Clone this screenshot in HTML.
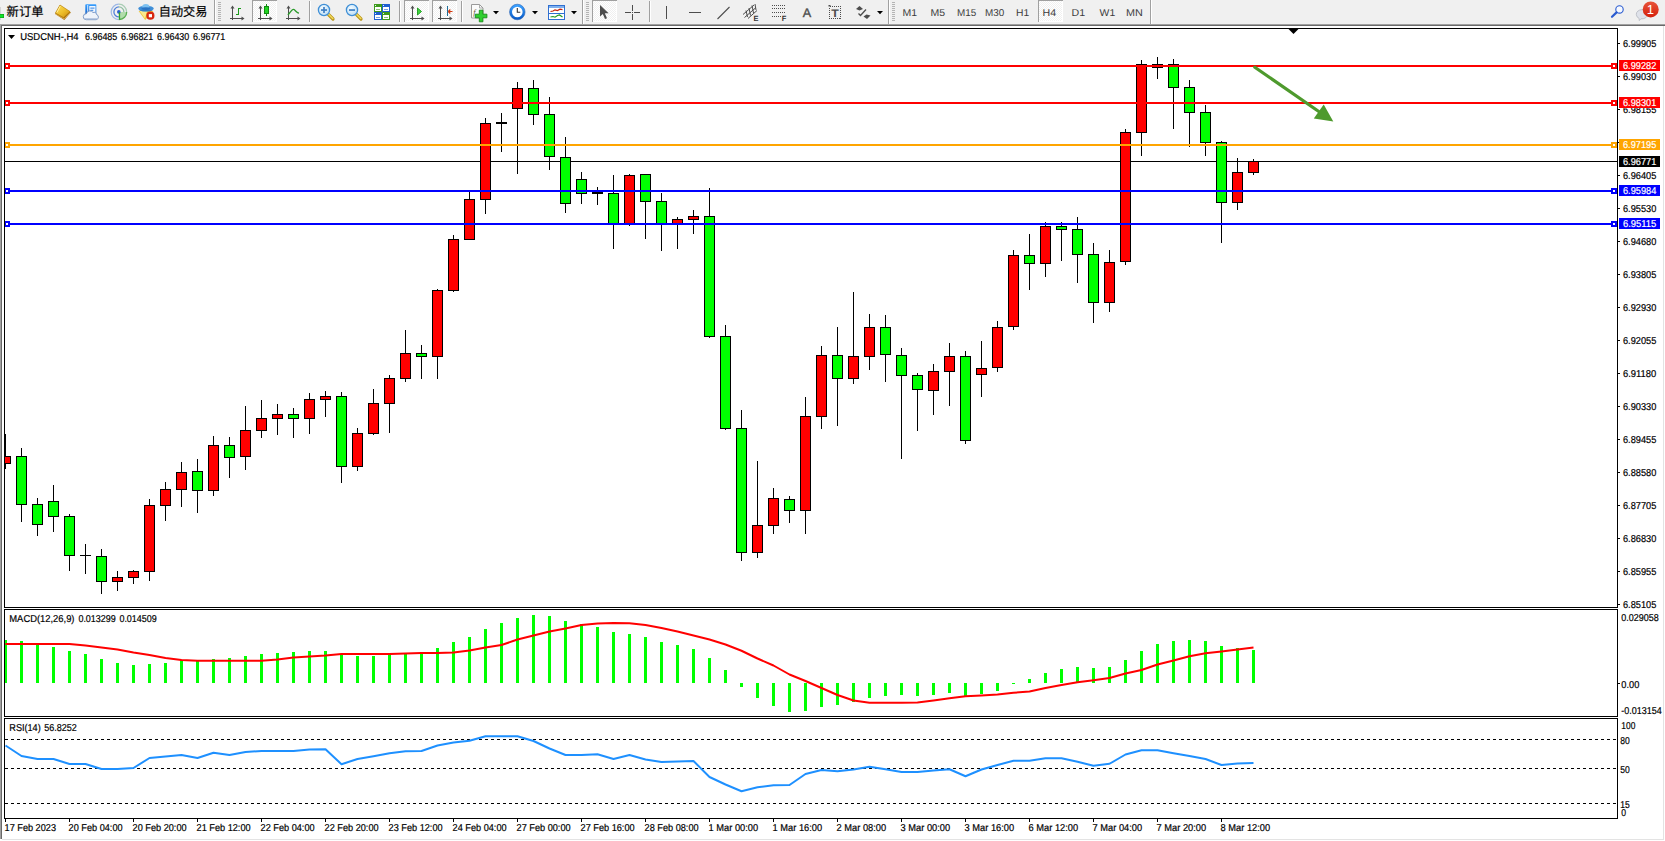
<!DOCTYPE html>
<html lang="zh-CN">
<head>
<meta charset="utf-8">
<title>USDCNH-,H4</title>
<style>
html,body{margin:0;padding:0;background:#fff;overflow:hidden}
body{width:1665px;height:841px}
svg{display:block;font-family:"Liberation Sans", "Noto Sans CJK SC", sans-serif}
text{white-space:pre;text-rendering:geometricPrecision}
</style>
</head>
<body>
<svg width="1665" height="841" viewBox="0 0 1665 841">
<rect x="0" y="0" width="1665" height="841" fill="#fff"/>
<rect x="0" y="0" width="1665" height="24" fill="#f0f0f0"/>
<rect x="0" y="24" width="1665" height="1" fill="#a0a0a0"/>
<rect x="0" y="25" width="1665" height="1" fill="#696969"/>
<rect x="0" y="25" width="1" height="814" fill="#a0a0a0"/>
<rect x="1" y="25" width="1" height="814" fill="#696969"/>
<rect x="1663" y="26" width="1" height="813" fill="#e3e3e3"/>
<rect x="2" y="839" width="1662" height="1" fill="#e3e3e3"/>
<clipPath id="cm"><rect x="5" y="29" width="1612" height="578"/></clipPath>
<clipPath id="cd"><rect x="5" y="610" width="1612" height="106"/></clipPath>
<clipPath id="cr"><rect x="5" y="719" width="1612" height="99"/></clipPath>
<g clip-path="url(#cm)" shape-rendering="crispEdges">
<rect x="5" y="161" width="1612" height="1" fill="#000"/>
<rect x="5" y="434" width="1" height="35" fill="#000"/>
<rect x="0" y="456" width="11" height="8" fill="#000"/>
<rect x="1" y="457" width="9" height="6" fill="#f00"/>
<rect x="21" y="448" width="1" height="74" fill="#000"/>
<rect x="16" y="456" width="11" height="49" fill="#000"/>
<rect x="17" y="457" width="9" height="47" fill="#0f0"/>
<rect x="37" y="498" width="1" height="38" fill="#000"/>
<rect x="32" y="504" width="11" height="21" fill="#000"/>
<rect x="33" y="505" width="9" height="19" fill="#0f0"/>
<rect x="53" y="485" width="1" height="47" fill="#000"/>
<rect x="48" y="501" width="11" height="16" fill="#000"/>
<rect x="49" y="502" width="9" height="14" fill="#0f0"/>
<rect x="69" y="514" width="1" height="57" fill="#000"/>
<rect x="64" y="516" width="11" height="40" fill="#000"/>
<rect x="65" y="517" width="9" height="38" fill="#0f0"/>
<rect x="85" y="544" width="1" height="30" fill="#000"/>
<rect x="80" y="555" width="11" height="1" fill="#000"/>
<rect x="101" y="549" width="1" height="45" fill="#000"/>
<rect x="96" y="556" width="11" height="26" fill="#000"/>
<rect x="97" y="557" width="9" height="24" fill="#0f0"/>
<rect x="117" y="571" width="1" height="20" fill="#000"/>
<rect x="112" y="577" width="11" height="5" fill="#000"/>
<rect x="113" y="578" width="9" height="3" fill="#f00"/>
<rect x="133" y="570" width="1" height="14" fill="#000"/>
<rect x="128" y="571" width="11" height="7" fill="#000"/>
<rect x="129" y="572" width="9" height="5" fill="#f00"/>
<rect x="149" y="499" width="1" height="82" fill="#000"/>
<rect x="144" y="505" width="11" height="67" fill="#000"/>
<rect x="145" y="506" width="9" height="65" fill="#f00"/>
<rect x="165" y="482" width="1" height="39" fill="#000"/>
<rect x="160" y="489" width="11" height="17" fill="#000"/>
<rect x="161" y="490" width="9" height="15" fill="#f00"/>
<rect x="181" y="462" width="1" height="45" fill="#000"/>
<rect x="176" y="472" width="11" height="18" fill="#000"/>
<rect x="177" y="473" width="9" height="16" fill="#f00"/>
<rect x="197" y="459" width="1" height="54" fill="#000"/>
<rect x="192" y="471" width="11" height="20" fill="#000"/>
<rect x="193" y="472" width="9" height="18" fill="#0f0"/>
<rect x="213" y="436" width="1" height="60" fill="#000"/>
<rect x="208" y="445" width="11" height="46" fill="#000"/>
<rect x="209" y="446" width="9" height="44" fill="#f00"/>
<rect x="229" y="437" width="1" height="41" fill="#000"/>
<rect x="224" y="445" width="11" height="13" fill="#000"/>
<rect x="225" y="446" width="9" height="11" fill="#0f0"/>
<rect x="245" y="406" width="1" height="64" fill="#000"/>
<rect x="240" y="430" width="11" height="27" fill="#000"/>
<rect x="241" y="431" width="9" height="25" fill="#f00"/>
<rect x="261" y="400" width="1" height="38" fill="#000"/>
<rect x="256" y="418" width="11" height="13" fill="#000"/>
<rect x="257" y="419" width="9" height="11" fill="#f00"/>
<rect x="277" y="404" width="1" height="31" fill="#000"/>
<rect x="272" y="414" width="11" height="5" fill="#000"/>
<rect x="273" y="415" width="9" height="3" fill="#f00"/>
<rect x="293" y="408" width="1" height="30" fill="#000"/>
<rect x="288" y="414" width="11" height="5" fill="#000"/>
<rect x="289" y="415" width="9" height="3" fill="#0f0"/>
<rect x="309" y="393" width="1" height="41" fill="#000"/>
<rect x="304" y="399" width="11" height="20" fill="#000"/>
<rect x="305" y="400" width="9" height="18" fill="#f00"/>
<rect x="325" y="391" width="1" height="26" fill="#000"/>
<rect x="320" y="396" width="11" height="4" fill="#000"/>
<rect x="321" y="397" width="9" height="2" fill="#f00"/>
<rect x="341" y="392" width="1" height="91" fill="#000"/>
<rect x="336" y="396" width="11" height="71" fill="#000"/>
<rect x="337" y="397" width="9" height="69" fill="#0f0"/>
<rect x="357" y="428" width="1" height="43" fill="#000"/>
<rect x="352" y="433" width="11" height="34" fill="#000"/>
<rect x="353" y="434" width="9" height="32" fill="#f00"/>
<rect x="373" y="389" width="1" height="46" fill="#000"/>
<rect x="368" y="403" width="11" height="31" fill="#000"/>
<rect x="369" y="404" width="9" height="29" fill="#f00"/>
<rect x="389" y="375" width="1" height="58" fill="#000"/>
<rect x="384" y="378" width="11" height="26" fill="#000"/>
<rect x="385" y="379" width="9" height="24" fill="#f00"/>
<rect x="405" y="330" width="1" height="52" fill="#000"/>
<rect x="400" y="353" width="11" height="26" fill="#000"/>
<rect x="401" y="354" width="9" height="24" fill="#f00"/>
<rect x="421" y="345" width="1" height="34" fill="#000"/>
<rect x="416" y="353" width="11" height="4" fill="#000"/>
<rect x="417" y="354" width="9" height="2" fill="#0f0"/>
<rect x="437" y="289" width="1" height="90" fill="#000"/>
<rect x="432" y="290" width="11" height="67" fill="#000"/>
<rect x="433" y="291" width="9" height="65" fill="#f00"/>
<rect x="453" y="235" width="1" height="57" fill="#000"/>
<rect x="448" y="239" width="11" height="52" fill="#000"/>
<rect x="449" y="240" width="9" height="50" fill="#f00"/>
<rect x="469" y="192" width="1" height="48" fill="#000"/>
<rect x="464" y="199" width="11" height="41" fill="#000"/>
<rect x="465" y="200" width="9" height="39" fill="#f00"/>
<rect x="485" y="118" width="1" height="96" fill="#000"/>
<rect x="480" y="123" width="11" height="77" fill="#000"/>
<rect x="481" y="124" width="9" height="75" fill="#f00"/>
<rect x="501" y="113" width="1" height="39" fill="#000"/>
<rect x="496" y="122" width="11" height="2" fill="#000"/>
<rect x="517" y="82" width="1" height="92" fill="#000"/>
<rect x="512" y="88" width="11" height="21" fill="#000"/>
<rect x="513" y="89" width="9" height="19" fill="#f00"/>
<rect x="533" y="80" width="1" height="45" fill="#000"/>
<rect x="528" y="88" width="11" height="27" fill="#000"/>
<rect x="529" y="89" width="9" height="25" fill="#0f0"/>
<rect x="549" y="97" width="1" height="73" fill="#000"/>
<rect x="544" y="114" width="11" height="43" fill="#000"/>
<rect x="545" y="115" width="9" height="41" fill="#0f0"/>
<rect x="565" y="137" width="1" height="76" fill="#000"/>
<rect x="560" y="157" width="11" height="47" fill="#000"/>
<rect x="561" y="158" width="9" height="45" fill="#0f0"/>
<rect x="581" y="172" width="1" height="32" fill="#000"/>
<rect x="576" y="179" width="11" height="15" fill="#000"/>
<rect x="577" y="180" width="9" height="13" fill="#0f0"/>
<rect x="597" y="187" width="1" height="18" fill="#000"/>
<rect x="592" y="192" width="11" height="2" fill="#000"/>
<rect x="613" y="175" width="1" height="74" fill="#000"/>
<rect x="608" y="193" width="11" height="32" fill="#000"/>
<rect x="609" y="194" width="9" height="30" fill="#0f0"/>
<rect x="629" y="174" width="1" height="52" fill="#000"/>
<rect x="624" y="175" width="11" height="50" fill="#000"/>
<rect x="625" y="176" width="9" height="48" fill="#f00"/>
<rect x="645" y="174" width="1" height="65" fill="#000"/>
<rect x="640" y="174" width="11" height="28" fill="#000"/>
<rect x="641" y="175" width="9" height="26" fill="#0f0"/>
<rect x="661" y="193" width="1" height="58" fill="#000"/>
<rect x="656" y="201" width="11" height="24" fill="#000"/>
<rect x="657" y="202" width="9" height="22" fill="#0f0"/>
<rect x="677" y="217" width="1" height="32" fill="#000"/>
<rect x="672" y="219" width="11" height="6" fill="#000"/>
<rect x="673" y="220" width="9" height="4" fill="#f00"/>
<rect x="693" y="210" width="1" height="24" fill="#000"/>
<rect x="688" y="216" width="11" height="4" fill="#000"/>
<rect x="689" y="217" width="9" height="2" fill="#f00"/>
<rect x="709" y="188" width="1" height="150" fill="#000"/>
<rect x="704" y="216" width="11" height="121" fill="#000"/>
<rect x="705" y="217" width="9" height="119" fill="#0f0"/>
<rect x="725" y="325" width="1" height="105" fill="#000"/>
<rect x="720" y="336" width="11" height="93" fill="#000"/>
<rect x="721" y="337" width="9" height="91" fill="#0f0"/>
<rect x="741" y="410" width="1" height="151" fill="#000"/>
<rect x="736" y="428" width="11" height="125" fill="#000"/>
<rect x="737" y="429" width="9" height="123" fill="#0f0"/>
<rect x="757" y="461" width="1" height="97" fill="#000"/>
<rect x="752" y="525" width="11" height="28" fill="#000"/>
<rect x="753" y="526" width="9" height="26" fill="#f00"/>
<rect x="773" y="488" width="1" height="46" fill="#000"/>
<rect x="768" y="498" width="11" height="28" fill="#000"/>
<rect x="769" y="499" width="9" height="26" fill="#f00"/>
<rect x="789" y="496" width="1" height="27" fill="#000"/>
<rect x="784" y="499" width="11" height="12" fill="#000"/>
<rect x="785" y="500" width="9" height="10" fill="#0f0"/>
<rect x="805" y="397" width="1" height="137" fill="#000"/>
<rect x="800" y="416" width="11" height="95" fill="#000"/>
<rect x="801" y="417" width="9" height="93" fill="#f00"/>
<rect x="821" y="346" width="1" height="83" fill="#000"/>
<rect x="816" y="355" width="11" height="62" fill="#000"/>
<rect x="817" y="356" width="9" height="60" fill="#f00"/>
<rect x="837" y="327" width="1" height="99" fill="#000"/>
<rect x="832" y="355" width="11" height="24" fill="#000"/>
<rect x="833" y="356" width="9" height="22" fill="#0f0"/>
<rect x="853" y="292" width="1" height="92" fill="#000"/>
<rect x="848" y="356" width="11" height="23" fill="#000"/>
<rect x="849" y="357" width="9" height="21" fill="#f00"/>
<rect x="869" y="314" width="1" height="56" fill="#000"/>
<rect x="864" y="327" width="11" height="30" fill="#000"/>
<rect x="865" y="328" width="9" height="28" fill="#f00"/>
<rect x="885" y="315" width="1" height="67" fill="#000"/>
<rect x="880" y="327" width="11" height="28" fill="#000"/>
<rect x="881" y="328" width="9" height="26" fill="#0f0"/>
<rect x="901" y="348" width="1" height="111" fill="#000"/>
<rect x="896" y="355" width="11" height="21" fill="#000"/>
<rect x="897" y="356" width="9" height="19" fill="#0f0"/>
<rect x="917" y="373" width="1" height="58" fill="#000"/>
<rect x="912" y="375" width="11" height="15" fill="#000"/>
<rect x="913" y="376" width="9" height="13" fill="#0f0"/>
<rect x="933" y="364" width="1" height="51" fill="#000"/>
<rect x="928" y="371" width="11" height="20" fill="#000"/>
<rect x="929" y="372" width="9" height="18" fill="#f00"/>
<rect x="949" y="343" width="1" height="63" fill="#000"/>
<rect x="944" y="356" width="11" height="16" fill="#000"/>
<rect x="945" y="357" width="9" height="14" fill="#f00"/>
<rect x="965" y="351" width="1" height="93" fill="#000"/>
<rect x="960" y="356" width="11" height="85" fill="#000"/>
<rect x="961" y="357" width="9" height="83" fill="#0f0"/>
<rect x="981" y="341" width="1" height="56" fill="#000"/>
<rect x="976" y="368" width="11" height="7" fill="#000"/>
<rect x="977" y="369" width="9" height="5" fill="#f00"/>
<rect x="997" y="321" width="1" height="51" fill="#000"/>
<rect x="992" y="327" width="11" height="41" fill="#000"/>
<rect x="993" y="328" width="9" height="39" fill="#f00"/>
<rect x="1013" y="250" width="1" height="80" fill="#000"/>
<rect x="1008" y="255" width="11" height="72" fill="#000"/>
<rect x="1009" y="256" width="9" height="70" fill="#f00"/>
<rect x="1029" y="234" width="1" height="56" fill="#000"/>
<rect x="1024" y="255" width="11" height="9" fill="#000"/>
<rect x="1025" y="256" width="9" height="7" fill="#0f0"/>
<rect x="1045" y="222" width="1" height="55" fill="#000"/>
<rect x="1040" y="226" width="11" height="38" fill="#000"/>
<rect x="1041" y="227" width="9" height="36" fill="#f00"/>
<rect x="1061" y="222" width="1" height="39" fill="#000"/>
<rect x="1056" y="226" width="11" height="4" fill="#000"/>
<rect x="1057" y="227" width="9" height="2" fill="#0f0"/>
<rect x="1077" y="217" width="1" height="66" fill="#000"/>
<rect x="1072" y="229" width="11" height="26" fill="#000"/>
<rect x="1073" y="230" width="9" height="24" fill="#0f0"/>
<rect x="1093" y="243" width="1" height="80" fill="#000"/>
<rect x="1088" y="254" width="11" height="49" fill="#000"/>
<rect x="1089" y="255" width="9" height="47" fill="#0f0"/>
<rect x="1109" y="250" width="1" height="62" fill="#000"/>
<rect x="1104" y="262" width="11" height="41" fill="#000"/>
<rect x="1105" y="263" width="9" height="39" fill="#f00"/>
<rect x="1125" y="129" width="1" height="136" fill="#000"/>
<rect x="1120" y="132" width="11" height="130" fill="#000"/>
<rect x="1121" y="133" width="9" height="128" fill="#f00"/>
<rect x="1141" y="60" width="1" height="96" fill="#000"/>
<rect x="1136" y="64" width="11" height="69" fill="#000"/>
<rect x="1137" y="65" width="9" height="67" fill="#f00"/>
<rect x="1157" y="57" width="1" height="22" fill="#000"/>
<rect x="1152" y="64" width="11" height="4" fill="#000"/>
<rect x="1173" y="59" width="1" height="70" fill="#000"/>
<rect x="1168" y="64" width="11" height="24" fill="#000"/>
<rect x="1169" y="65" width="9" height="22" fill="#0f0"/>
<rect x="1189" y="80" width="1" height="67" fill="#000"/>
<rect x="1184" y="87" width="11" height="26" fill="#000"/>
<rect x="1185" y="88" width="9" height="24" fill="#0f0"/>
<rect x="1205" y="105" width="1" height="51" fill="#000"/>
<rect x="1200" y="112" width="11" height="31" fill="#000"/>
<rect x="1201" y="113" width="9" height="29" fill="#0f0"/>
<rect x="1221" y="141" width="1" height="102" fill="#000"/>
<rect x="1216" y="142" width="11" height="61" fill="#000"/>
<rect x="1217" y="143" width="9" height="59" fill="#0f0"/>
<rect x="1237" y="158" width="1" height="52" fill="#000"/>
<rect x="1232" y="172" width="11" height="31" fill="#000"/>
<rect x="1233" y="173" width="9" height="29" fill="#f00"/>
<rect x="1253" y="159" width="1" height="16" fill="#000"/>
<rect x="1248" y="161" width="11" height="12" fill="#000"/>
<rect x="1249" y="162" width="9" height="10" fill="#f00"/>
</g>
<g shape-rendering="crispEdges">
<rect x="5" y="65" width="1612" height="2" fill="#f00"/>
<rect x="4" y="63" width="6" height="6" fill="#f00"/>
<rect x="6" y="65" width="2" height="2" fill="#fff"/>
<rect x="1611" y="63" width="6" height="6" fill="#f00"/>
<rect x="1613" y="65" width="2" height="2" fill="#fff"/>
<rect x="5" y="102" width="1612" height="2" fill="#f00"/>
<rect x="4" y="100" width="6" height="6" fill="#f00"/>
<rect x="6" y="102" width="2" height="2" fill="#fff"/>
<rect x="1611" y="100" width="6" height="6" fill="#f00"/>
<rect x="1613" y="102" width="2" height="2" fill="#fff"/>
<rect x="5" y="144" width="1612" height="2" fill="#ffa500"/>
<rect x="4" y="142" width="6" height="6" fill="#ffa500"/>
<rect x="6" y="144" width="2" height="2" fill="#fff"/>
<rect x="1611" y="142" width="6" height="6" fill="#ffa500"/>
<rect x="1613" y="144" width="2" height="2" fill="#fff"/>
<rect x="5" y="190" width="1612" height="2" fill="#00f"/>
<rect x="4" y="188" width="6" height="6" fill="#00f"/>
<rect x="6" y="190" width="2" height="2" fill="#fff"/>
<rect x="1611" y="188" width="6" height="6" fill="#00f"/>
<rect x="1613" y="190" width="2" height="2" fill="#fff"/>
<rect x="5" y="223" width="1612" height="2" fill="#00f"/>
<rect x="4" y="221" width="6" height="6" fill="#00f"/>
<rect x="6" y="223" width="2" height="2" fill="#fff"/>
<rect x="1611" y="221" width="6" height="6" fill="#00f"/>
<rect x="1613" y="223" width="2" height="2" fill="#fff"/>
</g>
<g>
<line x1="1254.8" y1="67.2" x2="1319.5" y2="112" stroke="#4e9a2d" stroke-width="3.2" stroke-linecap="round"/>
<polygon points="1333.3,121.4 1323.7,104.6 1313.8,118.4" fill="#4e9a2d"/>
</g>
<polygon points="1288.5,29 1298.5,29 1293.5,34" fill="#000"/>
<g clip-path="url(#cd)">
<g shape-rendering="crispEdges">
<rect x="4" y="640" width="3" height="43" fill="#0f0"/>
<rect x="20" y="641" width="3" height="42" fill="#0f0"/>
<rect x="36" y="644" width="3" height="39" fill="#0f0"/>
<rect x="52" y="647" width="3" height="36" fill="#0f0"/>
<rect x="68" y="651" width="3" height="32" fill="#0f0"/>
<rect x="84" y="654" width="3" height="29" fill="#0f0"/>
<rect x="100" y="659" width="3" height="24" fill="#0f0"/>
<rect x="116" y="663" width="3" height="20" fill="#0f0"/>
<rect x="132" y="665" width="3" height="18" fill="#0f0"/>
<rect x="148" y="664" width="3" height="19" fill="#0f0"/>
<rect x="164" y="663" width="3" height="20" fill="#0f0"/>
<rect x="180" y="660" width="3" height="23" fill="#0f0"/>
<rect x="196" y="660" width="3" height="23" fill="#0f0"/>
<rect x="212" y="659" width="3" height="24" fill="#0f0"/>
<rect x="228" y="658" width="3" height="25" fill="#0f0"/>
<rect x="244" y="656" width="3" height="27" fill="#0f0"/>
<rect x="260" y="654" width="3" height="29" fill="#0f0"/>
<rect x="276" y="653" width="3" height="30" fill="#0f0"/>
<rect x="292" y="652" width="3" height="31" fill="#0f0"/>
<rect x="308" y="651" width="3" height="32" fill="#0f0"/>
<rect x="324" y="651" width="3" height="32" fill="#0f0"/>
<rect x="340" y="655" width="3" height="28" fill="#0f0"/>
<rect x="356" y="656" width="3" height="27" fill="#0f0"/>
<rect x="372" y="656" width="3" height="27" fill="#0f0"/>
<rect x="388" y="655" width="3" height="28" fill="#0f0"/>
<rect x="404" y="654" width="3" height="29" fill="#0f0"/>
<rect x="420" y="653" width="3" height="30" fill="#0f0"/>
<rect x="436" y="648" width="3" height="35" fill="#0f0"/>
<rect x="452" y="642" width="3" height="41" fill="#0f0"/>
<rect x="468" y="637" width="3" height="46" fill="#0f0"/>
<rect x="484" y="629" width="3" height="54" fill="#0f0"/>
<rect x="500" y="623" width="3" height="60" fill="#0f0"/>
<rect x="516" y="618" width="3" height="65" fill="#0f0"/>
<rect x="532" y="615" width="3" height="68" fill="#0f0"/>
<rect x="548" y="616" width="3" height="67" fill="#0f0"/>
<rect x="564" y="621" width="3" height="62" fill="#0f0"/>
<rect x="580" y="624" width="3" height="59" fill="#0f0"/>
<rect x="596" y="627" width="3" height="56" fill="#0f0"/>
<rect x="612" y="632" width="3" height="51" fill="#0f0"/>
<rect x="628" y="634" width="3" height="49" fill="#0f0"/>
<rect x="644" y="637" width="3" height="46" fill="#0f0"/>
<rect x="660" y="642" width="3" height="41" fill="#0f0"/>
<rect x="676" y="645" width="3" height="38" fill="#0f0"/>
<rect x="692" y="649" width="3" height="34" fill="#0f0"/>
<rect x="708" y="658" width="3" height="25" fill="#0f0"/>
<rect x="724" y="670" width="3" height="13" fill="#0f0"/>
<rect x="740" y="683" width="3" height="4" fill="#0f0"/>
<rect x="756" y="683" width="3" height="15" fill="#0f0"/>
<rect x="772" y="683" width="3" height="23" fill="#0f0"/>
<rect x="788" y="683" width="3" height="29" fill="#0f0"/>
<rect x="804" y="683" width="3" height="28" fill="#0f0"/>
<rect x="820" y="683" width="3" height="24" fill="#0f0"/>
<rect x="836" y="683" width="3" height="22" fill="#0f0"/>
<rect x="852" y="683" width="3" height="19" fill="#0f0"/>
<rect x="868" y="683" width="3" height="15" fill="#0f0"/>
<rect x="884" y="683" width="3" height="13" fill="#0f0"/>
<rect x="900" y="683" width="3" height="12" fill="#0f0"/>
<rect x="916" y="683" width="3" height="13" fill="#0f0"/>
<rect x="932" y="683" width="3" height="12" fill="#0f0"/>
<rect x="948" y="683" width="3" height="10" fill="#0f0"/>
<rect x="964" y="683" width="3" height="13" fill="#0f0"/>
<rect x="980" y="683" width="3" height="11" fill="#0f0"/>
<rect x="996" y="683" width="3" height="8" fill="#0f0"/>
<rect x="1012" y="683" width="3" height="1" fill="#0f0"/>
<rect x="1028" y="679" width="3" height="4" fill="#0f0"/>
<rect x="1044" y="673" width="3" height="10" fill="#0f0"/>
<rect x="1060" y="669" width="3" height="14" fill="#0f0"/>
<rect x="1076" y="667" width="3" height="16" fill="#0f0"/>
<rect x="1092" y="668" width="3" height="15" fill="#0f0"/>
<rect x="1108" y="667" width="3" height="16" fill="#0f0"/>
<rect x="1124" y="660" width="3" height="23" fill="#0f0"/>
<rect x="1140" y="651" width="3" height="32" fill="#0f0"/>
<rect x="1156" y="644" width="3" height="39" fill="#0f0"/>
<rect x="1172" y="641" width="3" height="42" fill="#0f0"/>
<rect x="1188" y="640" width="3" height="43" fill="#0f0"/>
<rect x="1204" y="641" width="3" height="42" fill="#0f0"/>
<rect x="1220" y="646" width="3" height="37" fill="#0f0"/>
<rect x="1236" y="648" width="3" height="35" fill="#0f0"/>
<rect x="1252" y="650" width="3" height="33" fill="#0f0"/>
</g>
<polyline points="5.5,644 21.5,644 37.5,644 53.5,644 69.5,644 85.5,645.5 101.5,647.5 117.5,649.5 133.5,652.5 149.5,655 165.5,658 181.5,660 197.5,660.75 213.5,660.75 229.5,660.75 245.5,660.75 261.5,660.75 277.5,659.5 293.5,657.5 309.5,656.5 325.5,655.5 341.5,654 357.5,654 373.5,654 389.5,654 405.5,653.5 421.5,653 437.5,653 453.5,652.5 469.5,650.5 485.5,647.5 501.5,645 517.5,639.5 533.5,635.5 549.5,631.5 565.5,628.5 581.5,625 597.5,623.5 613.5,623 629.5,623.25 645.5,625 661.5,628 677.5,631.5 693.5,635.5 709.5,639.5 725.5,644.5 741.5,650.75 757.5,658.5 773.5,665.5 789.5,674.5 805.5,681 821.5,688 837.5,695 853.5,700.5 869.5,702.75 885.5,702.75 901.5,702.75 917.5,702.5 933.5,700.5 949.5,698.25 965.5,696.25 981.5,695.5 997.5,694.5 1013.5,692.75 1029.5,691.5 1045.5,688 1061.5,685 1077.5,682.25 1093.5,680.25 1109.5,678 1125.5,673.5 1141.5,670 1157.5,664.5 1173.5,660.5 1189.5,656.25 1205.5,653.25 1221.5,651.5 1237.5,649.5 1253.5,647.5" fill="none" stroke="#f00" stroke-width="2" stroke-linejoin="round"/>
</g>
<g shape-rendering="crispEdges">
<line x1="5" y1="739.5" x2="1617" y2="739.5" stroke="#000" stroke-width="1" stroke-dasharray="3,3"/>
<line x1="5" y1="768.5" x2="1617" y2="768.5" stroke="#000" stroke-width="1" stroke-dasharray="3,3"/>
<line x1="5" y1="803.5" x2="1617" y2="803.5" stroke="#000" stroke-width="1" stroke-dasharray="3,3"/>
</g>
<g clip-path="url(#cr)">
<polyline points="5.5,745.5 21.5,756 37.5,759 53.5,759 69.5,764 85.5,764 101.5,769 117.5,769 133.5,768 149.5,758 165.5,756.5 181.5,755 197.5,758 213.5,752.75 229.5,755 245.5,752 261.5,751 277.5,751 293.5,751 309.5,749.5 325.5,749.25 341.5,764.25 357.5,759 373.5,756.25 389.5,753.25 405.5,751.25 421.5,751 437.5,745.5 453.5,742.5 469.5,740.75 485.5,736.25 501.5,736.25 517.5,736.25 533.5,741 549.5,748.5 565.5,755 581.5,755 597.5,754.25 613.5,759 629.5,755 645.5,759.5 661.5,762 677.5,761.5 693.5,761 709.5,777 725.5,784.5 741.5,791.25 757.5,787.25 773.5,785.25 789.5,785 805.5,774 821.5,770 837.5,771.25 853.5,769.5 869.5,766.75 885.5,769.25 901.5,772 917.5,772 933.5,770.5 949.5,769.25 965.5,776.25 981.5,769.5 997.5,765 1013.5,760.75 1029.5,760.75 1045.5,758.25 1061.5,758.25 1077.5,761.75 1093.5,765.75 1109.5,763.75 1125.5,754.5 1141.5,750.25 1157.5,750.25 1173.5,753.25 1189.5,756 1205.5,759 1221.5,765 1237.5,763.5 1253.5,763" fill="none" stroke="#1e90ff" stroke-width="2" stroke-linejoin="round"/>
</g>
<g shape-rendering="crispEdges" fill="#000">
<rect x="4" y="28" width="1614" height="1" fill="#000"/>
<rect x="4" y="607" width="1614" height="1" fill="#000"/>
<rect x="4" y="28" width="1" height="580" fill="#000"/>
<rect x="1617" y="28" width="1" height="580" fill="#000"/>
<rect x="4" y="609" width="1614" height="1" fill="#000"/>
<rect x="4" y="716" width="1614" height="1" fill="#000"/>
<rect x="4" y="609" width="1" height="108" fill="#000"/>
<rect x="1617" y="609" width="1" height="108" fill="#000"/>
<rect x="4" y="718" width="1614" height="1" fill="#000"/>
<rect x="4" y="818" width="1614" height="1" fill="#000"/>
<rect x="4" y="718" width="1" height="101" fill="#000"/>
<rect x="1617" y="718" width="1" height="101" fill="#000"/>
</g>
<g shape-rendering="crispEdges">
<rect x="1618" y="43" width="2" height="1" fill="#000"/>
<rect x="1618" y="76" width="2" height="1" fill="#000"/>
<rect x="1618" y="109" width="2" height="1" fill="#000"/>
<rect x="1618" y="142" width="2" height="1" fill="#000"/>
<rect x="1618" y="175" width="2" height="1" fill="#000"/>
<rect x="1618" y="208" width="2" height="1" fill="#000"/>
<rect x="1618" y="241" width="2" height="1" fill="#000"/>
<rect x="1618" y="274" width="2" height="1" fill="#000"/>
<rect x="1618" y="307" width="2" height="1" fill="#000"/>
<rect x="1618" y="340" width="2" height="1" fill="#000"/>
<rect x="1618" y="373" width="2" height="1" fill="#000"/>
<rect x="1618" y="406" width="2" height="1" fill="#000"/>
<rect x="1618" y="439" width="2" height="1" fill="#000"/>
<rect x="1618" y="472" width="2" height="1" fill="#000"/>
<rect x="1618" y="505" width="2" height="1" fill="#000"/>
<rect x="1618" y="538" width="2" height="1" fill="#000"/>
<rect x="1618" y="571" width="2" height="1" fill="#000"/>
<rect x="1618" y="604" width="2" height="1" fill="#000"/>
<rect x="1618" y="683" width="2" height="1" fill="#000"/>
</g>
<g>
<text x="1623" y="47" font-size="10" fill="#000" stroke="#000" stroke-width="0.2" textLength="33.3" lengthAdjust="spacingAndGlyphs">6.99905</text>
<text x="1623" y="80" font-size="10" fill="#000" stroke="#000" stroke-width="0.2" textLength="33.3" lengthAdjust="spacingAndGlyphs">6.99030</text>
<text x="1623" y="113" font-size="10" fill="#000" stroke="#000" stroke-width="0.2" textLength="33.3" lengthAdjust="spacingAndGlyphs">6.98155</text>
<text x="1623" y="179" font-size="10" fill="#000" stroke="#000" stroke-width="0.2" textLength="33.3" lengthAdjust="spacingAndGlyphs">6.96405</text>
<text x="1623" y="212" font-size="10" fill="#000" stroke="#000" stroke-width="0.2" textLength="33.3" lengthAdjust="spacingAndGlyphs">6.95530</text>
<text x="1623" y="245" font-size="10" fill="#000" stroke="#000" stroke-width="0.2" textLength="33.3" lengthAdjust="spacingAndGlyphs">6.94680</text>
<text x="1623" y="278" font-size="10" fill="#000" stroke="#000" stroke-width="0.2" textLength="33.3" lengthAdjust="spacingAndGlyphs">6.93805</text>
<text x="1623" y="311" font-size="10" fill="#000" stroke="#000" stroke-width="0.2" textLength="33.3" lengthAdjust="spacingAndGlyphs">6.92930</text>
<text x="1623" y="344" font-size="10" fill="#000" stroke="#000" stroke-width="0.2" textLength="33.3" lengthAdjust="spacingAndGlyphs">6.92055</text>
<text x="1623" y="377" font-size="10" fill="#000" stroke="#000" stroke-width="0.2" textLength="33.3" lengthAdjust="spacingAndGlyphs">6.91180</text>
<text x="1623" y="410" font-size="10" fill="#000" stroke="#000" stroke-width="0.2" textLength="33.3" lengthAdjust="spacingAndGlyphs">6.90330</text>
<text x="1623" y="443" font-size="10" fill="#000" stroke="#000" stroke-width="0.2" textLength="33.3" lengthAdjust="spacingAndGlyphs">6.89455</text>
<text x="1623" y="476" font-size="10" fill="#000" stroke="#000" stroke-width="0.2" textLength="33.3" lengthAdjust="spacingAndGlyphs">6.88580</text>
<text x="1623" y="509" font-size="10" fill="#000" stroke="#000" stroke-width="0.2" textLength="33.3" lengthAdjust="spacingAndGlyphs">6.87705</text>
<text x="1623" y="542" font-size="10" fill="#000" stroke="#000" stroke-width="0.2" textLength="33.3" lengthAdjust="spacingAndGlyphs">6.86830</text>
<text x="1623" y="575" font-size="10" fill="#000" stroke="#000" stroke-width="0.2" textLength="33.3" lengthAdjust="spacingAndGlyphs">6.85955</text>
<text x="1623" y="608" font-size="10" fill="#000" stroke="#000" stroke-width="0.2" textLength="33.3" lengthAdjust="spacingAndGlyphs">6.85105</text>
</g>
<g shape-rendering="crispEdges">
<rect x="1619" y="60" width="41" height="11" fill="#f00"/>
<rect x="1619" y="97" width="41" height="11" fill="#f00"/>
<rect x="1619" y="139" width="41" height="11" fill="#ffa500"/>
<rect x="1619" y="185" width="41" height="11" fill="#00f"/>
<rect x="1619" y="218" width="41" height="11" fill="#00f"/>
<rect x="1619" y="156" width="41" height="11" fill="#000"/>
</g>
<text x="1623" y="69" font-size="10" fill="#fff" stroke="#fff" stroke-width="0.2" textLength="33.3" lengthAdjust="spacingAndGlyphs">6.99282</text>
<text x="1623" y="106" font-size="10" fill="#fff" stroke="#fff" stroke-width="0.2" textLength="33.3" lengthAdjust="spacingAndGlyphs">6.98301</text>
<text x="1623" y="148" font-size="10" fill="#fff" stroke="#fff" stroke-width="0.2" textLength="33.3" lengthAdjust="spacingAndGlyphs">6.97195</text>
<text x="1623" y="194" font-size="10" fill="#fff" stroke="#fff" stroke-width="0.2" textLength="33.3" lengthAdjust="spacingAndGlyphs">6.95984</text>
<text x="1623" y="227" font-size="10" fill="#fff" stroke="#fff" stroke-width="0.2" textLength="33.3" lengthAdjust="spacingAndGlyphs">6.95115</text>
<text x="1623" y="165" font-size="10" fill="#fff" stroke="#fff" stroke-width="0.2" textLength="33.3" lengthAdjust="spacingAndGlyphs">6.96771</text>
<text x="1621.3" y="621" font-size="10" fill="#000" stroke="#000" stroke-width="0.2" textLength="37.5" lengthAdjust="spacingAndGlyphs">0.029058</text>
<text x="1621.3" y="687.5" font-size="10" fill="#000" stroke="#000" stroke-width="0.2" textLength="18" lengthAdjust="spacingAndGlyphs">0.00</text>
<text x="1621.3" y="713.6" font-size="10" fill="#000" stroke="#000" stroke-width="0.2" textLength="40.5" lengthAdjust="spacingAndGlyphs">-0.013154</text>
<text x="1621.3" y="729" font-size="10" fill="#000" stroke="#000" stroke-width="0.2" textLength="14" lengthAdjust="spacingAndGlyphs">100</text>
<text x="1620.3" y="743.5" font-size="10" fill="#000" stroke="#000" stroke-width="0.2" textLength="9.5" lengthAdjust="spacingAndGlyphs">80</text>
<text x="1620.3" y="772.5" font-size="10" fill="#000" stroke="#000" stroke-width="0.2" textLength="9.5" lengthAdjust="spacingAndGlyphs">50</text>
<text x="1620.3" y="807.5" font-size="10" fill="#000" stroke="#000" stroke-width="0.2" textLength="9.5" lengthAdjust="spacingAndGlyphs">15</text>
<text x="1621.3" y="815.5" font-size="10" fill="#000" stroke="#000" stroke-width="0.2" textLength="4.8" lengthAdjust="spacingAndGlyphs">0</text>
<polygon points="8,35 15,35 11.5,39" fill="#000"/>
<text y="40" font-size="10" fill="#000" stroke="#000" stroke-width="0.2"><tspan x="20.2" textLength="58.3" lengthAdjust="spacingAndGlyphs">USDCNH-,H4</tspan><tspan x="85" textLength="32.3" lengthAdjust="spacingAndGlyphs">6.96485</tspan> <tspan x="121" textLength="32.3" lengthAdjust="spacingAndGlyphs">6.96821</tspan> <tspan x="157" textLength="32.3" lengthAdjust="spacingAndGlyphs">6.96430</tspan> <tspan x="193" textLength="32.3" lengthAdjust="spacingAndGlyphs">6.96771</tspan></text>
<text y="622" font-size="10" fill="#000" stroke="#000" stroke-width="0.2"><tspan x="9.3" textLength="65.2" lengthAdjust="spacingAndGlyphs">MACD(12,26,9)</tspan> <tspan x="78.4" textLength="37.4" lengthAdjust="spacingAndGlyphs">0.013299</tspan> <tspan x="119.4" textLength="37.4" lengthAdjust="spacingAndGlyphs">0.014509</tspan></text>
<text y="731" font-size="10" fill="#000" stroke="#000" stroke-width="0.2"><tspan x="9.3" textLength="31.4" lengthAdjust="spacingAndGlyphs">RSI(14)</tspan> <tspan x="44.3" textLength="32.6" lengthAdjust="spacingAndGlyphs">56.8252</tspan></text>
<g shape-rendering="crispEdges">
<rect x="5" y="819" width="1" height="3" fill="#000"/>
<rect x="69" y="819" width="1" height="3" fill="#000"/>
<rect x="133" y="819" width="1" height="3" fill="#000"/>
<rect x="197" y="819" width="1" height="3" fill="#000"/>
<rect x="261" y="819" width="1" height="3" fill="#000"/>
<rect x="325" y="819" width="1" height="3" fill="#000"/>
<rect x="389" y="819" width="1" height="3" fill="#000"/>
<rect x="453" y="819" width="1" height="3" fill="#000"/>
<rect x="517" y="819" width="1" height="3" fill="#000"/>
<rect x="581" y="819" width="1" height="3" fill="#000"/>
<rect x="645" y="819" width="1" height="3" fill="#000"/>
<rect x="709" y="819" width="1" height="3" fill="#000"/>
<rect x="773" y="819" width="1" height="3" fill="#000"/>
<rect x="837" y="819" width="1" height="3" fill="#000"/>
<rect x="901" y="819" width="1" height="3" fill="#000"/>
<rect x="965" y="819" width="1" height="3" fill="#000"/>
<rect x="1029" y="819" width="1" height="3" fill="#000"/>
<rect x="1093" y="819" width="1" height="3" fill="#000"/>
<rect x="1157" y="819" width="1" height="3" fill="#000"/>
<rect x="1221" y="819" width="1" height="3" fill="#000"/>
</g>
<text x="4.6" y="831.4" font-size="10" fill="#000" stroke="#000" stroke-width="0.2" textLength="51.4" lengthAdjust="spacingAndGlyphs">17 Feb 2023</text>
<text x="68.6" y="831.4" font-size="10" fill="#000" stroke="#000" stroke-width="0.2" textLength="54" lengthAdjust="spacingAndGlyphs">20 Feb 04:00</text>
<text x="132.6" y="831.4" font-size="10" fill="#000" stroke="#000" stroke-width="0.2" textLength="54" lengthAdjust="spacingAndGlyphs">20 Feb 20:00</text>
<text x="196.6" y="831.4" font-size="10" fill="#000" stroke="#000" stroke-width="0.2" textLength="54" lengthAdjust="spacingAndGlyphs">21 Feb 12:00</text>
<text x="260.6" y="831.4" font-size="10" fill="#000" stroke="#000" stroke-width="0.2" textLength="54" lengthAdjust="spacingAndGlyphs">22 Feb 04:00</text>
<text x="324.6" y="831.4" font-size="10" fill="#000" stroke="#000" stroke-width="0.2" textLength="54" lengthAdjust="spacingAndGlyphs">22 Feb 20:00</text>
<text x="388.6" y="831.4" font-size="10" fill="#000" stroke="#000" stroke-width="0.2" textLength="54" lengthAdjust="spacingAndGlyphs">23 Feb 12:00</text>
<text x="452.6" y="831.4" font-size="10" fill="#000" stroke="#000" stroke-width="0.2" textLength="54" lengthAdjust="spacingAndGlyphs">24 Feb 04:00</text>
<text x="516.6" y="831.4" font-size="10" fill="#000" stroke="#000" stroke-width="0.2" textLength="54" lengthAdjust="spacingAndGlyphs">27 Feb 00:00</text>
<text x="580.6" y="831.4" font-size="10" fill="#000" stroke="#000" stroke-width="0.2" textLength="54" lengthAdjust="spacingAndGlyphs">27 Feb 16:00</text>
<text x="644.6" y="831.4" font-size="10" fill="#000" stroke="#000" stroke-width="0.2" textLength="54" lengthAdjust="spacingAndGlyphs">28 Feb 08:00</text>
<text x="708.6" y="831.4" font-size="10" fill="#000" stroke="#000" stroke-width="0.2" textLength="49.5" lengthAdjust="spacingAndGlyphs">1 Mar 00:00</text>
<text x="772.6" y="831.4" font-size="10" fill="#000" stroke="#000" stroke-width="0.2" textLength="49.5" lengthAdjust="spacingAndGlyphs">1 Mar 16:00</text>
<text x="836.6" y="831.4" font-size="10" fill="#000" stroke="#000" stroke-width="0.2" textLength="49.5" lengthAdjust="spacingAndGlyphs">2 Mar 08:00</text>
<text x="900.6" y="831.4" font-size="10" fill="#000" stroke="#000" stroke-width="0.2" textLength="49.5" lengthAdjust="spacingAndGlyphs">3 Mar 00:00</text>
<text x="964.6" y="831.4" font-size="10" fill="#000" stroke="#000" stroke-width="0.2" textLength="49.5" lengthAdjust="spacingAndGlyphs">3 Mar 16:00</text>
<text x="1028.6" y="831.4" font-size="10" fill="#000" stroke="#000" stroke-width="0.2" textLength="49.5" lengthAdjust="spacingAndGlyphs">6 Mar 12:00</text>
<text x="1092.6" y="831.4" font-size="10" fill="#000" stroke="#000" stroke-width="0.2" textLength="49.5" lengthAdjust="spacingAndGlyphs">7 Mar 04:00</text>
<text x="1156.6" y="831.4" font-size="10" fill="#000" stroke="#000" stroke-width="0.2" textLength="49.5" lengthAdjust="spacingAndGlyphs">7 Mar 20:00</text>
<text x="1220.6" y="831.4" font-size="10" fill="#000" stroke="#000" stroke-width="0.2" textLength="49.5" lengthAdjust="spacingAndGlyphs">8 Mar 12:00</text>
<defs><linearGradient id="gy" x1="0" y1="0" x2="1" y2="1"><stop offset="0" stop-color="#ffe45c"/><stop offset="0.55" stop-color="#ecbc28"/><stop offset="1" stop-color="#c98a0c"/></linearGradient><linearGradient id="gb" x1="0" y1="0" x2="0" y2="1"><stop offset="0" stop-color="#3aa0ff"/><stop offset="1" stop-color="#0a5cc8"/></linearGradient><linearGradient id="gg" x1="0" y1="0" x2="0" y2="1"><stop offset="0" stop-color="#4fb82c"/><stop offset="1" stop-color="#2f8a12"/></linearGradient><linearGradient id="gr" x1="0" y1="0" x2="0" y2="1"><stop offset="0" stop-color="#e8553a"/><stop offset="1" stop-color="#d4200c"/></linearGradient><radialGradient id="gl" cx="0.4" cy="0.35" r="0.7"><stop offset="0" stop-color="#f4fbff"/><stop offset="1" stop-color="#b9dcf5"/></radialGradient><pattern id="dith" width="2" height="2" patternUnits="userSpaceOnUse"><rect width="2" height="2" fill="#fff"/><rect width="1" height="1" fill="#f0f0f0"/><rect x="1" y="1" width="1" height="1" fill="#f0f0f0"/></pattern></defs>
<rect x="0" y="7" width="1" height="13" fill="#d4d4d4"/>
<rect x="0" y="14" width="4" height="4" fill="#149a14"/>
<rect x="0" y="14.6" width="3.4" height="2.8" fill="#10e22a"/>
<text x="6.6" y="15.7" font-size="12.5" fill="#000" stroke="#000" stroke-width="0.2" textLength="37" lengthAdjust="spacingAndGlyphs">新订单</text>
<g><polygon points="59.9,5 70.9,12.4 64.3,19.9 55.1,14" fill="#a86c0c"/><polyline points="55.9,14.2 64.1,18.9 70.3,12.8" fill="none" stroke="#e6c163" stroke-width="0.7"/><polygon points="60,5 70.1,11.6 63.6,17.6 55.4,13" fill="url(#gy)" stroke="#b9820f" stroke-width="0.6"/><polyline points="60.3,6 57,12.4" fill="none" stroke="#fff1a8" stroke-width="0.9"/></g>
<g><rect x="85.3" y="4.3" width="11" height="11" rx="0.8" fill="url(#gb)"/><rect x="87.2" y="5" width="1" height="9" fill="#d8ecff"/><rect x="89.3" y="6" width="6.2" height="8.5" fill="#f2f8ff"/><rect x="90.3" y="7.6" width="4.2" height="1" fill="#2f80e0"/><rect x="90.3" y="9.8" width="3" height="1" fill="#2f80e0"/><path d="M86.2,19.7 a3,3 0 0 1 0.2,-6 a3.6,3.4 0 0 1 6.6,-1.2 a2.6,2.6 0 0 1 3.6,2 a2.7,2.7 0 0 1 -0.4,5.2 z" fill="#eef3fa" stroke="#6f8fc0" stroke-width="0.9"/><path d="M85,18.6 h12.6" stroke="#b9c9e2" stroke-width="1.2" fill="none"/></g>
<g fill="none"><path d="M118.9,19.6 A7.7,7.7 0 0 1 118.9,4.2" stroke="#9db8e6" stroke-width="1.2"/><path d="M118.9,4.2 A7.7,7.7 0 0 1 126.6,11.9" stroke="#a9cdb4" stroke-width="1.2"/><path d="M118.9,16.9 A5,5 0 0 1 118.9,6.9" stroke="#4f7fd8" stroke-width="1.3"/><path d="M118.9,6.9 A5,5 0 0 1 123.9,11.9" stroke="#8fbfa0" stroke-width="1.3"/><path d="M119.3,11.9 L119.3,19.7 A7.8,7.8 0 0 0 126.7,11.9 Z" fill="#a6d8a0" stroke="none" opacity="0.85"/><path d="M119.3,19.5 A7.6,7.6 0 0 0 126.7,11.9" stroke="#58ae52" stroke-width="1.3"/><circle cx="118.8" cy="11.9" r="1.8" fill="#2a5fd0"/><rect x="118.8" y="12.2" width="1.3" height="7.6" fill="#2fa22f"/></g>
<g><polygon points="138.6,11 153.4,11 145.2,19.9" fill="#f0c83a"/><polygon points="139.6,11 147,11 145,18.6" fill="#fbe88c"/><ellipse cx="146" cy="8.6" rx="7.8" ry="2.9" fill="#3f8fd8"/><ellipse cx="145.8" cy="6.6" rx="3.6" ry="2.7" fill="#7cc0f0"/><ellipse cx="145.9" cy="8.6" rx="4.4" ry="1.3" fill="#2a74c4"/><ellipse cx="146" cy="10.4" rx="6.6" ry="1" fill="#2f6fb0" opacity="0.55"/><circle cx="150.4" cy="15.7" r="4.1" fill="#d8260f"/><rect x="148.8" y="14.1" width="3.2" height="3.2" fill="#fff"/></g>
<text x="158.8" y="15.7" font-size="12.5" fill="#000" stroke="#000" stroke-width="0.2" textLength="48.6" lengthAdjust="spacingAndGlyphs">自动交易</text>
<rect x="214" y="0" width="1" height="24" fill="#a0a0a0" shape-rendering="crispEdges"/>
<rect x="215" y="0" width="1" height="24" fill="#fff" shape-rendering="crispEdges"/>
<g shape-rendering="crispEdges">
<rect x="218" y="2" width="3" height="1" fill="#b4b4b4"/>
<rect x="218" y="4" width="3" height="1" fill="#b4b4b4"/>
<rect x="218" y="6" width="3" height="1" fill="#b4b4b4"/>
<rect x="218" y="8" width="3" height="1" fill="#b4b4b4"/>
<rect x="218" y="10" width="3" height="1" fill="#b4b4b4"/>
<rect x="218" y="12" width="3" height="1" fill="#b4b4b4"/>
<rect x="218" y="14" width="3" height="1" fill="#b4b4b4"/>
<rect x="218" y="16" width="3" height="1" fill="#b4b4b4"/>
<rect x="218" y="18" width="3" height="1" fill="#b4b4b4"/>
<rect x="218" y="20" width="3" height="1" fill="#b4b4b4"/>
</g>
<g stroke="#4d4d4d" stroke-width="1" fill="#4d4d4d" shape-rendering="crispEdges"><line x1="232.5" y1="7" x2="232.5" y2="20"/><line x1="230" y1="18.5" x2="243" y2="18.5"/></g>
<polygon points="232.5,5.5 230.5,8.5 234.5,8.5" fill="#4d4d4d"/>
<polygon points="244.5,18.5 241.5,16.5 241.5,20.5" fill="#4d4d4d"/>
<polyline points="236,14.5 238.5,14.5 238.5,8.5 241,8.5" fill="none" stroke="#1a9a1a" stroke-width="1.4" shape-rendering="crispEdges"/>
<g shape-rendering="crispEdges">
<rect x="252" y="0" width="25" height="22" fill="url(#dith)"/>
<rect x="252" y="0" width="25" height="1" fill="#a0a0a0"/>
<rect x="252" y="0" width="1" height="22" fill="#a0a0a0"/>
<rect x="276" y="1" width="1" height="21" fill="#fff"/>
<rect x="253" y="21" width="24" height="1" fill="#fff"/>
</g>
<g stroke="#4d4d4d" stroke-width="1" fill="#4d4d4d" shape-rendering="crispEdges"><line x1="260.5" y1="7" x2="260.5" y2="20"/><line x1="258" y1="18.5" x2="271" y2="18.5"/></g>
<polygon points="260.5,5.5 258.5,8.5 262.5,8.5" fill="#4d4d4d"/>
<polygon points="272.5,18.5 269.5,16.5 269.5,20.5" fill="#4d4d4d"/>
<g shape-rendering="crispEdges"><rect x="266" y="4" width="1" height="12" fill="#128a12"/><rect x="264" y="6" width="5" height="8" fill="#128a12"/><rect x="265" y="7" width="3" height="6" fill="#22d422"/></g>
<g stroke="#4d4d4d" stroke-width="1" fill="#4d4d4d" shape-rendering="crispEdges"><line x1="288.5" y1="7" x2="288.5" y2="20"/><line x1="286" y1="18.5" x2="299" y2="18.5"/></g>
<polygon points="288.5,5.5 286.5,8.5 290.5,8.5" fill="#4d4d4d"/>
<polygon points="300.5,18.5 297.5,16.5 297.5,20.5" fill="#4d4d4d"/>
<path d="M288,15 C291,11 292.5,8.5 294,9.5 S297,13 299,13.2" fill="none" stroke="#2a9a2a" stroke-width="1.3"/>
<rect x="309" y="1" width="1" height="21" fill="#a0a0a0" shape-rendering="crispEdges"/>
<rect x="310" y="1" width="1" height="21" fill="#fff" shape-rendering="crispEdges"/>
<g><line x1="328.5" y1="14.5" x2="333" y2="19" stroke="#b8941a" stroke-width="3.2" stroke-linecap="round"/><line x1="328.5" y1="14.2" x2="332.8" y2="18.5" stroke="#f2d95c" stroke-width="1.6" stroke-linecap="round"/><circle cx="324" cy="10" r="5.6" fill="url(#gl)" stroke="#3f8fd6" stroke-width="1.3"/><rect x="321" y="9.2" width="6" height="1.7" fill="#3f7fc4"/><rect x="323.15" y="7" width="1.7" height="6" fill="#3f7fc4"/></g>
<g><line x1="356.5" y1="14.5" x2="361" y2="19" stroke="#b8941a" stroke-width="3.2" stroke-linecap="round"/><line x1="356.5" y1="14.2" x2="360.8" y2="18.5" stroke="#f2d95c" stroke-width="1.6" stroke-linecap="round"/><circle cx="352" cy="10" r="5.6" fill="url(#gl)" stroke="#3f8fd6" stroke-width="1.3"/><rect x="349" y="9.2" width="6" height="1.7" fill="#3f7fc4"/></g>
<g shape-rendering="crispEdges">
<rect x="374" y="4" width="8" height="8" fill="#3f9a1c"/>
<rect x="375" y="5" width="1" height="1" fill="#dfe"/>
<rect x="375" y="7" width="6" height="4" fill="#fff"/>
<rect x="376" y="9" width="4" height="1" fill="#3f9a1c" opacity="0.6"/>
<rect x="382" y="4" width="8" height="8" fill="#1f5fd0"/>
<rect x="383" y="5" width="1" height="1" fill="#dfe"/>
<rect x="383" y="7" width="6" height="4" fill="#fff"/>
<rect x="384" y="9" width="4" height="1" fill="#1f5fd0" opacity="0.6"/>
<rect x="374" y="12" width="8" height="8" fill="#1f5fd0"/>
<rect x="375" y="13" width="1" height="1" fill="#dfe"/>
<rect x="375" y="15" width="6" height="4" fill="#fff"/>
<rect x="376" y="17" width="4" height="1" fill="#1f5fd0" opacity="0.6"/>
<rect x="382" y="12" width="8" height="8" fill="#3f9a1c"/>
<rect x="383" y="13" width="1" height="1" fill="#dfe"/>
<rect x="383" y="15" width="6" height="4" fill="#fff"/>
<rect x="384" y="17" width="4" height="1" fill="#3f9a1c" opacity="0.6"/>
</g>
<rect x="399" y="1" width="1" height="21" fill="#a0a0a0" shape-rendering="crispEdges"/>
<rect x="400" y="1" width="1" height="21" fill="#fff" shape-rendering="crispEdges"/>
<g shape-rendering="crispEdges">
<rect x="404" y="0" width="25" height="22" fill="url(#dith)"/>
<rect x="404" y="0" width="25" height="1" fill="#a0a0a0"/>
<rect x="404" y="0" width="1" height="22" fill="#a0a0a0"/>
<rect x="428" y="1" width="1" height="21" fill="#fff"/>
<rect x="405" y="21" width="24" height="1" fill="#fff"/>
</g>
<g stroke="#4d4d4d" stroke-width="1" fill="#4d4d4d" shape-rendering="crispEdges"><line x1="412.5" y1="7" x2="412.5" y2="20"/><line x1="410" y1="18.5" x2="423" y2="18.5"/></g>
<polygon points="412.5,5.5 410.5,8.5 414.5,8.5" fill="#4d4d4d"/>
<polygon points="424.5,18.5 421.5,16.5 421.5,20.5" fill="#4d4d4d"/>
<polygon points="417.5,8 417.5,15 421.5,11.5" fill="#3fd43f" stroke="#1a9a1a" stroke-width="0.9"/>
<g shape-rendering="crispEdges">
<rect x="432" y="0" width="25" height="22" fill="url(#dith)"/>
<rect x="432" y="0" width="25" height="1" fill="#a0a0a0"/>
<rect x="432" y="0" width="1" height="22" fill="#a0a0a0"/>
<rect x="456" y="1" width="1" height="21" fill="#fff"/>
<rect x="433" y="21" width="24" height="1" fill="#fff"/>
</g>
<g stroke="#4d4d4d" stroke-width="1" fill="#4d4d4d" shape-rendering="crispEdges"><line x1="440.5" y1="7" x2="440.5" y2="20"/><line x1="438" y1="18.5" x2="451" y2="18.5"/></g>
<polygon points="440.5,5.5 438.5,8.5 442.5,8.5" fill="#4d4d4d"/>
<polygon points="452.5,18.5 449.5,16.5 449.5,20.5" fill="#4d4d4d"/>
<rect x="447" y="6" width="1" height="10" fill="#1f6f9a" shape-rendering="crispEdges"/>
<path d="M448.3,11.5 L452.5,11.5 M448.3,11.5 L450.3,9.5 M448.3,11.5 L450.3,13.5" stroke="#d23a0f" stroke-width="1.2" fill="none"/>
<rect x="461" y="1" width="1" height="21" fill="#a0a0a0" shape-rendering="crispEdges"/>
<rect x="462" y="1" width="1" height="21" fill="#fff" shape-rendering="crispEdges"/>
<g><path d="M471.5,4.5 h8 l3.5,3.5 v10 h-11.5 z" fill="#fbfbfb" stroke="#9a9a9a" stroke-width="1"/><path d="M479.5,4.5 v3.5 h3.5" fill="none" stroke="#9a9a9a" stroke-width="0.8"/><text x="473.2" y="14.5" font-size="8" font-style="italic" fill="#6a5a3a" font-family="'Liberation Serif', serif">f</text><path d="M479.3,10.2 h3.6 v4 h4 v3.6 h-4 v4 h-3.6 v-4 h-4 v-3.6 h4 z" fill="#2fcf2f" stroke="#178a17" stroke-width="0.9"/></g>
<polygon points="493,11 499,11 496,14.2" fill="#000"/>
<g><circle cx="517.3" cy="12" r="6.5" fill="#fff" stroke="url(#gb)" stroke-width="2.4"/><circle cx="517.3" cy="12" r="7.8" fill="none" stroke="#0e4fa8" stroke-width="0.5"/><path d="M517.3,8 V12.3 H520.3" fill="none" stroke="#333" stroke-width="1.1"/></g>
<polygon points="532,11 538,11 535,14.2" fill="#000"/>
<g shape-rendering="crispEdges"><rect x="548.5" y="5" width="16" height="14" fill="#fff" stroke="#2f6fd0" stroke-width="1"/><rect x="549" y="5.5" width="15" height="2" fill="#7fb0ee"/><rect x="549" y="13" width="15" height="1" fill="#2f6fd0"/></g>
<polyline points="550.5,11.5 553,11 555,9.8 557.5,10.5 560,9.2 562.5,9.6" fill="none" stroke="#c4220c" stroke-width="1.2"/>
<polyline points="550.5,17 553,16.5 555,17.2 557.5,15.5 559.5,15 562.5,17" fill="none" stroke="#1f9a1f" stroke-width="1.2"/>
<polygon points="571,11 577,11 574,14.2" fill="#000"/>
<rect x="582" y="0" width="1" height="24" fill="#a0a0a0" shape-rendering="crispEdges"/>
<rect x="583" y="0" width="1" height="24" fill="#fff" shape-rendering="crispEdges"/>
<g shape-rendering="crispEdges">
<rect x="586" y="2" width="3" height="1" fill="#b4b4b4"/>
<rect x="586" y="4" width="3" height="1" fill="#b4b4b4"/>
<rect x="586" y="6" width="3" height="1" fill="#b4b4b4"/>
<rect x="586" y="8" width="3" height="1" fill="#b4b4b4"/>
<rect x="586" y="10" width="3" height="1" fill="#b4b4b4"/>
<rect x="586" y="12" width="3" height="1" fill="#b4b4b4"/>
<rect x="586" y="14" width="3" height="1" fill="#b4b4b4"/>
<rect x="586" y="16" width="3" height="1" fill="#b4b4b4"/>
<rect x="586" y="18" width="3" height="1" fill="#b4b4b4"/>
<rect x="586" y="20" width="3" height="1" fill="#b4b4b4"/>
</g>
<g shape-rendering="crispEdges">
<rect x="592" y="0" width="25" height="22" fill="url(#dith)"/>
<rect x="592" y="0" width="25" height="1" fill="#a0a0a0"/>
<rect x="592" y="0" width="1" height="22" fill="#a0a0a0"/>
<rect x="616" y="1" width="1" height="21" fill="#fff"/>
<rect x="593" y="21" width="24" height="1" fill="#fff"/>
</g>
<polygon points="600,5 600,16.5 602.8,14 605,19 607,18.2 604.8,13.3 608.6,13.3" fill="#4d4d4d"/>
<g stroke="#4d4d4d" stroke-width="1" shape-rendering="crispEdges"><line x1="625" y1="12.5" x2="631" y2="12.5"/><line x1="634" y1="12.5" x2="640" y2="12.5"/><line x1="632.5" y1="5" x2="632.5" y2="11"/><line x1="632.5" y1="14" x2="632.5" y2="20"/><rect x="632" y="12" width="1" height="1" fill="#4d4d4d" stroke="none"/></g>
<rect x="649" y="1" width="1" height="21" fill="#a0a0a0" shape-rendering="crispEdges"/>
<rect x="650" y="1" width="1" height="21" fill="#fff" shape-rendering="crispEdges"/>
<g stroke="#4d4d4d" stroke-width="1" shape-rendering="crispEdges"><line x1="666.5" y1="6" x2="666.5" y2="19"/><line x1="689" y1="12.5" x2="701" y2="12.5"/></g>
<line x1="717.5" y1="19" x2="729.5" y2="7" stroke="#4d4d4d" stroke-width="1.1"/>
<g stroke="#4d4d4d" stroke-width="1" fill="none"><line x1="743" y1="14.5" x2="754" y2="5"/><line x1="744.5" y1="17.5" x2="756" y2="7.5"/><line x1="748" y1="18.5" x2="757" y2="10.5"/><line x1="746" y1="10.5" x2="747.5" y2="17"/><line x1="749" y1="8" x2="750.5" y2="15.5"/><line x1="752" y1="5.5" x2="753.5" y2="13"/><line x1="755" y1="4" x2="756" y2="10"/></g>
<text x="753.4" y="21" font-size="7.5" font-weight="bold" fill="#333">E</text>
<g stroke="#4d4d4d" stroke-width="1" stroke-dasharray="1,1" shape-rendering="crispEdges"><line x1="772" y1="5.5" x2="785" y2="5.5"/><line x1="772" y1="8.5" x2="785" y2="8.5"/><line x1="772" y1="12.5" x2="785" y2="12.5"/><line x1="772" y1="16.5" x2="781" y2="16.5"/></g>
<text x="781.8" y="21" font-size="7.5" font-weight="bold" fill="#333">F</text>
<text x="802.8" y="17" font-size="12.5" fill="#4d4d4d" stroke="#4d4d4d" stroke-width="0.4" textLength="8.4" lengthAdjust="spacingAndGlyphs">A</text>
<rect x="829.5" y="6.5" width="11" height="12" fill="none" stroke="#4d4d4d" stroke-width="1" stroke-dasharray="1,1" shape-rendering="crispEdges"/>
<rect x="828.5" y="5" width="2" height="1.5" fill="#4d4d4d"/>
<text x="831.2" y="16.6" font-size="11" font-weight="bold" fill="#4d4d4d" textLength="7.6" lengthAdjust="spacingAndGlyphs">T</text>
<g fill="#4d4d4d"><polygon points="859.5,6 863,9 859.5,10.5 856,9"/><polygon points="866.5,14.5 870.5,15.5 867,19 863.5,16.5"/><polyline points="858.5,13.5 860.5,15.5 866,9.5" fill="none" stroke="#4d4d4d" stroke-width="1.3"/></g>
<polygon points="877,11 883,11 880,14.2" fill="#000"/>
<rect x="888" y="0" width="1" height="24" fill="#a0a0a0" shape-rendering="crispEdges"/>
<rect x="889" y="0" width="1" height="24" fill="#fff" shape-rendering="crispEdges"/>
<g shape-rendering="crispEdges">
<rect x="892" y="2" width="3" height="1" fill="#b4b4b4"/>
<rect x="892" y="4" width="3" height="1" fill="#b4b4b4"/>
<rect x="892" y="6" width="3" height="1" fill="#b4b4b4"/>
<rect x="892" y="8" width="3" height="1" fill="#b4b4b4"/>
<rect x="892" y="10" width="3" height="1" fill="#b4b4b4"/>
<rect x="892" y="12" width="3" height="1" fill="#b4b4b4"/>
<rect x="892" y="14" width="3" height="1" fill="#b4b4b4"/>
<rect x="892" y="16" width="3" height="1" fill="#b4b4b4"/>
<rect x="892" y="18" width="3" height="1" fill="#b4b4b4"/>
<rect x="892" y="20" width="3" height="1" fill="#b4b4b4"/>
</g>
<g shape-rendering="crispEdges">
<rect x="1038" y="0" width="25" height="22" fill="url(#dith)"/>
<rect x="1038" y="0" width="25" height="1" fill="#a0a0a0"/>
<rect x="1038" y="0" width="1" height="22" fill="#a0a0a0"/>
<rect x="1062" y="1" width="1" height="21" fill="#fff"/>
<rect x="1039" y="21" width="24" height="1" fill="#fff"/>
</g>
<text x="902.6" y="15.9" font-size="10" fill="#3c3c3c" textLength="14.6" lengthAdjust="spacingAndGlyphs">M1</text>
<text x="930.6" y="15.9" font-size="10" fill="#3c3c3c" textLength="14.6" lengthAdjust="spacingAndGlyphs">M5</text>
<text x="957" y="15.9" font-size="10" fill="#3c3c3c" textLength="19.2" lengthAdjust="spacingAndGlyphs">M15</text>
<text x="985" y="15.9" font-size="10" fill="#3c3c3c" textLength="19.2" lengthAdjust="spacingAndGlyphs">M30</text>
<text x="1016" y="15.9" font-size="10" fill="#3c3c3c" textLength="13.2" lengthAdjust="spacingAndGlyphs">H1</text>
<text x="1042.6" y="15.9" font-size="10" fill="#3c3c3c" textLength="13.6" lengthAdjust="spacingAndGlyphs">H4</text>
<text x="1071.6" y="15.9" font-size="10" fill="#3c3c3c" textLength="13.6" lengthAdjust="spacingAndGlyphs">D1</text>
<text x="1099.6" y="15.9" font-size="10" fill="#3c3c3c" textLength="15.6" lengthAdjust="spacingAndGlyphs">W1</text>
<text x="1126" y="15.9" font-size="10" fill="#3c3c3c" textLength="16.8" lengthAdjust="spacingAndGlyphs">MN</text>
<rect x="1150" y="0" width="1" height="24" fill="#a0a0a0" shape-rendering="crispEdges"/>
<rect x="1151" y="0" width="1" height="24" fill="#fff" shape-rendering="crispEdges"/>
<g><circle cx="1619.5" cy="9.4" r="3.7" fill="#f6f9ff" stroke="#2a5bd0" stroke-width="1.1"/><line x1="1616.6" y1="12.4" x2="1612" y2="16.8" stroke="#2a5bd0" stroke-width="2.2" stroke-linecap="round"/></g>
<g><path d="M1636.3,14.5 a5.6,4.6 0 1 1 4.6,4.3 l-1.6,1.8 l-0.2,-2.2 a5.4,4.6 0 0 1 -2.8,-3.9 z" fill="#dfe2ea" stroke="#b4b8c0" stroke-width="0.8"/><circle cx="1650.7" cy="9.4" r="8" fill="url(#gr)"/><text x="1650.4" y="14" font-size="13" fill="#fff" text-anchor="middle">1</text></g>
</svg>
</body>
</html>
